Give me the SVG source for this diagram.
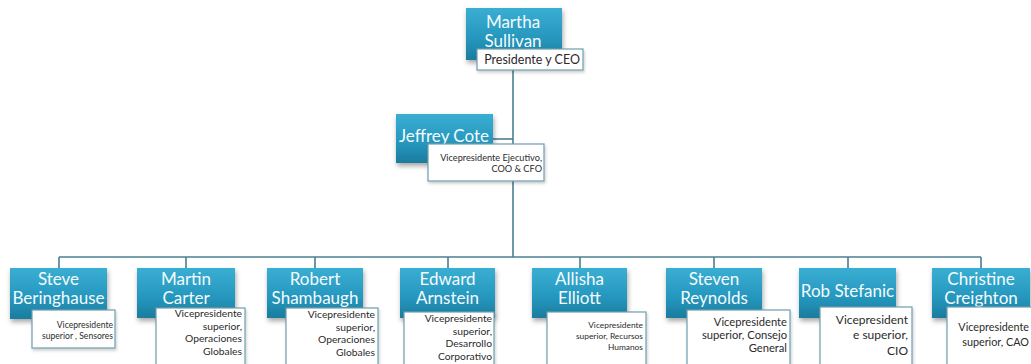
<svg xmlns="http://www.w3.org/2000/svg" width="1031" height="364" viewBox="0 0 1031 364">
<defs>
<linearGradient id="blue" x1="0" y1="0" x2="0" y2="1">
<stop offset="0" stop-color="#3aaed3"/>
<stop offset="0.6" stop-color="#2596bd"/>
<stop offset="1" stop-color="#1b7c9e"/>
</linearGradient>
<filter id="sh" x="-20%" y="-20%" width="140%" height="150%">
<feDropShadow dx="1" dy="3" stdDeviation="2.5" flood-color="#000" flood-opacity="0.35"/>
</filter>
<filter id="sh2" x="-20%" y="-20%" width="140%" height="150%">
<feDropShadow dx="1" dy="2" stdDeviation="1.5" flood-color="#000" flood-opacity="0.2"/>
</filter>
</defs>
<style>
.box{fill:url(#blue);filter:url(#sh);}
.lbl{fill:#ffffff;stroke:#6f9fae;stroke-width:1.2;filter:url(#sh2);}
.name{fill:#f4fbfd;font-family:Lato,"Open Sans",sans-serif;font-size:17px;text-anchor:middle;}
.t{fill:#2b2b2b;font-family:Lato,"Open Sans",sans-serif;text-anchor:end;}
.con{fill:none;stroke:#4a7f90;stroke-width:1.6;}
</style>
<rect width="1031" height="364" fill="#ffffff"/>
<g id="connectors">
<path class="con" d="M513 70 V257"/>
<path class="con" d="M493 139 H513"/>
<path class="con" d="M59 257 H981"/>
<path class="con" d="M59 257 V268 M186 257 V268 M315 257 V268 M448 257 V268 M580 257 V268 M714 257 V268 M848 257 V268 M981 257 V268"/>
</g>
<g id="martha">
<rect class="box" x="466" y="8" width="96" height="52"/>
<text class="name" x="513" y="28">Martha</text>
<text class="name" x="513" y="47">Sullivan</text>
<rect class="lbl" x="477" y="49" width="106" height="21"/>
<text class="t" x="580" y="64" style="font-size:12.5px">Presidente y CEO</text>
</g>
<g id="jeffrey">
<rect class="box" x="396" y="114" width="97" height="49"/>
<text class="name" x="444" y="142">Jeffrey Cote</text>
<rect class="lbl" x="428" y="144" width="116" height="37"/>
<text class="t" x="542" y="161" style="font-size:9.2px">Vicepresidente Ejecutivo,</text>
<text class="t" x="542" y="172" style="font-size:9.2px">COO &amp; CFO</text>
</g>
<g id="steve">
<rect class="box" x="10" y="268" width="97" height="51"/>
<text class="name" x="58.5" y="285">Steve</text>
<text class="name" x="58.5" y="304">Beringhause</text>
<rect class="lbl" x="32" y="310" width="83" height="38"/>
<text class="t" x="113" y="328" style="font-size:8.6px">Vicepresidente</text>
<text class="t" x="113" y="339" style="font-size:8.6px">superior , Sensores</text>
</g>
<g id="martin">
<rect class="box" x="137" y="268" width="98" height="50"/>
<text class="name" x="186" y="285">Martin</text>
<text class="name" x="186" y="304">Carter</text>
<rect class="lbl" x="156" y="308" width="89" height="60"/>
<text class="t" x="242" y="317" style="font-size:10.3px">Vicepresidente</text>
<text class="t" x="242" y="329.5" style="font-size:10.3px">superior,</text>
<text class="t" x="242" y="342" style="font-size:10.3px">Operaciones</text>
<text class="t" x="242" y="355" style="font-size:10.3px">Globales</text>
</g>
<g id="robert">
<rect class="box" x="267" y="268" width="96" height="50"/>
<text class="name" x="315" y="285">Robert</text>
<text class="name" x="315" y="304">Shambaugh</text>
<rect class="lbl" x="286" y="308" width="92" height="60"/>
<text class="t" x="375" y="318" style="font-size:10.3px">Vicepresidente</text>
<text class="t" x="375" y="330.5" style="font-size:10.3px">superior,</text>
<text class="t" x="375" y="343" style="font-size:10.3px">Operaciones</text>
<text class="t" x="375" y="356" style="font-size:10.3px">Globales</text>
</g>
<g id="edward">
<rect class="box" x="400" y="268" width="95" height="50"/>
<text class="name" x="447.5" y="285">Edward</text>
<text class="name" x="447.5" y="304">Arnstein</text>
<rect class="lbl" x="404" y="312" width="90" height="56"/>
<text class="t" x="492" y="322" style="font-size:10.3px">Vicepresidente</text>
<text class="t" x="492" y="334.5" style="font-size:10.3px">superior,</text>
<text class="t" x="492" y="347" style="font-size:10.3px">Desarrollo</text>
<text class="t" x="492" y="359.5" style="font-size:10.3px">Corporativo</text>
</g>
<g id="allisha">
<rect class="box" x="532" y="268" width="95" height="50"/>
<text class="name" x="579.5" y="285">Allisha</text>
<text class="name" x="579.5" y="304">Elliott</text>
<rect class="lbl" x="547" y="312" width="99" height="56"/>
<text class="t" x="643" y="328" style="font-size:8.4px">Vicepresidente</text>
<text class="t" x="643" y="339" style="font-size:8.4px">superior, Recursos</text>
<text class="t" x="643" y="350" style="font-size:8.4px">Humanos</text>
</g>
<g id="steven">
<rect class="box" x="666" y="268" width="96" height="50"/>
<text class="name" x="714" y="285">Steven</text>
<text class="name" x="714" y="304">Reynolds</text>
<rect class="lbl" x="687" y="310" width="103" height="58"/>
<text class="t" x="787" y="326" style="font-size:11.2px">Vicepresidente</text>
<text class="t" x="787" y="339" style="font-size:11.2px">superior, Consejo</text>
<text class="t" x="787" y="352" style="font-size:11.2px">General</text>
</g>
<g id="rob">
<rect class="box" x="799" y="268" width="97" height="50"/>
<text class="name" x="847.5" y="297">Rob Stefanic</text>
<rect class="lbl" x="820" y="307" width="92" height="61"/>
<text class="t" x="908" y="324" style="font-size:12px">Vicepresident</text>
<text class="t" x="908" y="339" style="font-size:12px">e superior,</text>
<text class="t" x="908" y="355" style="font-size:12px">CIO</text>
</g>
<g id="christine">
<rect class="box" x="932" y="268" width="98" height="50"/>
<text class="name" x="981" y="285">Christine</text>
<text class="name" x="981" y="304">Creighton</text>
<rect class="lbl" x="947" y="307" width="95" height="61"/>
<text class="t" x="1029" y="331" style="font-size:10.8px">Vicepresidente</text>
<text class="t" x="1029" y="346" style="font-size:10.8px">superior, CAO</text>
</g>
</svg>
